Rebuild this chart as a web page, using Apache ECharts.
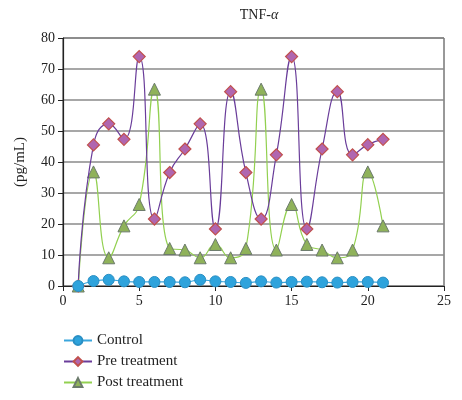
<!DOCTYPE html>
<html><head><meta charset="utf-8">
<script src="https://cdn.jsdelivr.net/npm/echarts@6/dist/echarts.min.js"></script>
<style>html,body{margin:0;padding:0;background:#fff}#c{width:462px;height:400px}</style>
</head><body><div id="c"></div>
<script>
const xValues = [1,2,3,4,5,6,7,8,9,10,11,12,13,14,15,16,17,18,19,20,21];
const controlVals = [0,1.6,2.0,1.5,1.3,1.3,1.3,1.2,2.0,1.5,1.3,1.0,1.5,1.1,1.3,1.4,1.2,1.1,1.3,1.3,1.1];
const preVals = [0,45.5,52.3,47.3,74,21.6,36.6,44.2,52.3,18.4,62.7,36.6,21.6,42.3,74,18.4,44.2,62.7,42.3,45.6,47.3];
const postVals = [0,36.8,9.1,19.4,26.3,63.5,12.1,11.6,9.1,13.4,9.1,12.1,63.5,11.6,26.3,13.4,11.6,9.1,11.6,36.8,19.4];
const seriesNames = ['Control','Pre treatment','Post treatment'];
const xTicks = [0,5,10,15,20,25];
const yTicks = [0,10,20,30,40,50,60,70,80];

const font = 'Liberation Serif';
const pair = (vals) => xValues.map((x,i)=>[x, vals[i]]);
const chart = echarts.init(document.getElementById('c'));
chart.setOption({
  animation:false,
  backgroundColor:'#fff',
  textStyle:{fontFamily:font},
  title:{text:'{a|TNF-}{b|α}', left:254, top:3, textAlign:'center',
    textStyle:{fontWeight:'normal', rich:{a:{fontFamily:font,fontSize:14,fontWeight:'normal',color:'#222'},b:{fontFamily:font,fontSize:14,fontWeight:'normal',fontStyle:'italic',color:'#222'}}}},
  grid:{left:63, right:18, top:38, bottom:114, show:true, borderColor:'#333', borderWidth:1, backgroundColor:'transparent'},
  legend:{orient:'vertical', left:63, top:333, padding:0, height:67, itemWidth:28, itemHeight:11, itemGap:6,
    textStyle:{fontFamily:font, fontSize:15, color:'#222'},
    data:seriesNames},
  xAxis:{type:'value', min:xTicks[0], max:xTicks[xTicks.length-1], interval:5,
    axisLine:{lineStyle:{color:'#222',width:1.2}},
    axisTick:{show:true, inside:false, length:5, lineStyle:{color:'#222'}},
    axisLabel:{fontFamily:font, fontSize:14, color:'#222', margin:8},
    splitLine:{show:false}},
  yAxis:{type:'value', min:yTicks[0], max:yTicks[yTicks.length-1], interval:10,
    name:'(pg/mL)', nameLocation:'middle', nameGap:35, nameRotate:90,
    nameTextStyle:{fontFamily:font, fontSize:15, color:'#222'},
    axisLine:{show:true, lineStyle:{color:'#222',width:1.2}},
    axisTick:{show:true, inside:false, length:5, lineStyle:{color:'#222'}},
    axisLabel:{fontFamily:font, fontSize:14, color:'#222', margin:8},
    splitLine:{show:true, lineStyle:{color:'#8a8a8a', width:1.5}}},
  series:[
    {name:seriesNames[0], type:'line', data:pair(controlVals), smooth:0.5, symbol:'circle', symbolSize:11, z:5,
      lineStyle:{color:'#3aa6dd', width:1.2},
      itemStyle:{color:'#2ea3dc', borderColor:'#2a8fc4', borderWidth:1}},
    {name:seriesNames[1], type:'line', data:pair(preVals), smooth:0.5, symbol:'diamond', symbolSize:12, z:4,
      lineStyle:{color:'#6a3d9a', width:1.2},
      itemStyle:{color:'#b066b0', borderColor:'#c0504d', borderWidth:1.2}},
    {name:seriesNames[2], type:'line', data:pair(postVals), smooth:0.5, symbol:'triangle', symbolSize:12, z:3,
      lineStyle:{color:'#92d050', width:1.2},
      itemStyle:{color:'#8fb25a', borderColor:'#6b7a6b', borderWidth:1}}
  ]
});
</script></body></html>
